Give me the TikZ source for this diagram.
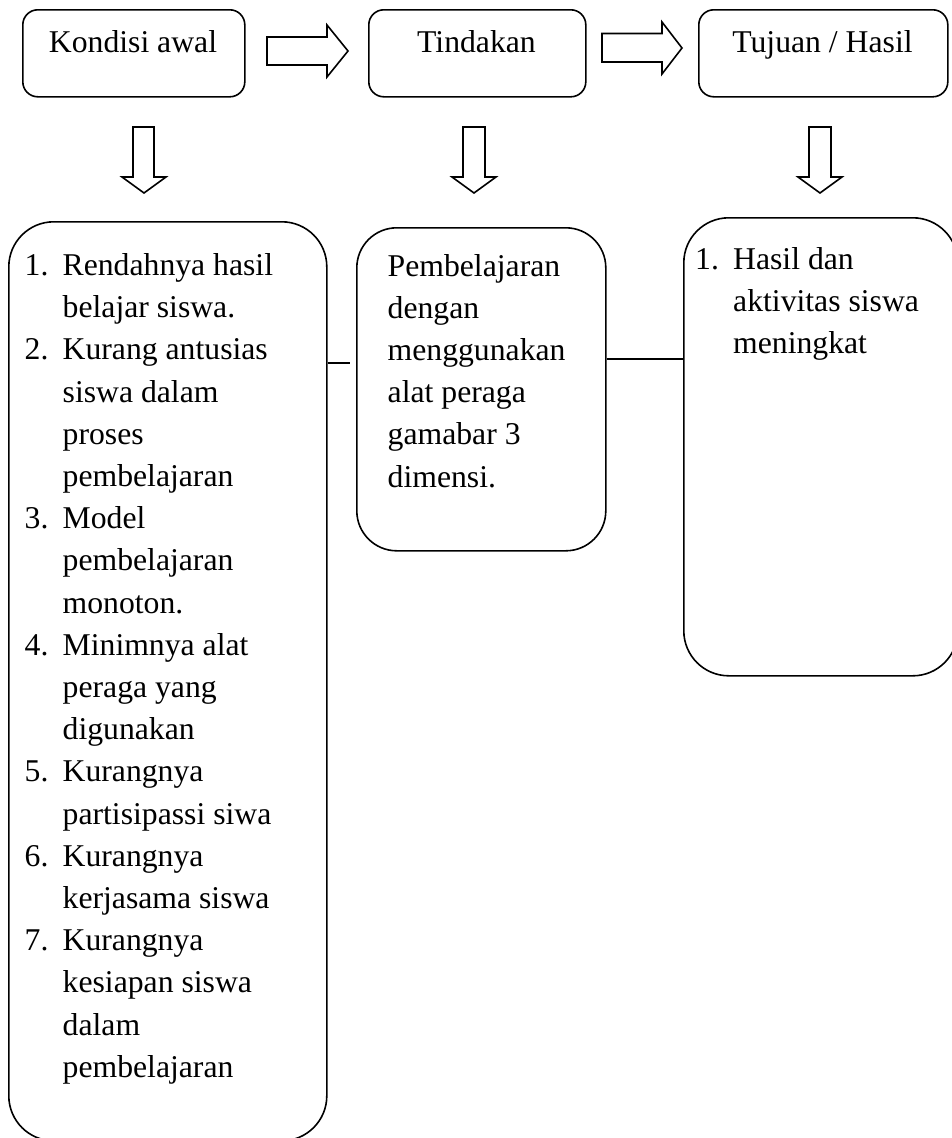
\documentclass[tikz,border=0pt]{standalone}
\usepackage{fontspec}
\setmainfont{Liberation Serif}
\usepackage{array}
\newcommand\itemnum[1]{\makebox[38pt][l]{#1}}
\tikzset{
  smallbox/.style={draw, line width=1.6pt, rounded corners=15pt, inner sep=0pt, anchor=north west},
  bigbox/.style={draw, line width=1.6pt, rounded corners=45pt, inner sep=0pt, anchor=north west},
  blockarrow/.style={draw, line width=1.6pt, miter limit=20},
  conn/.style={draw, line width=1.6pt},
  txt/.style={inner sep=0pt, font=\fontsize{31.7}{42.2}\selectfont}
}
\begin{document}
\begin{tikzpicture}[x=1pt, y=-1pt]
\useasboundingbox (0,0) rectangle (952,1138);
\fill[white] (0,0) rectangle (952,1138);
\clip (0,0) rectangle (952,1138);

% top boxes
\node[smallbox, minimum width=222pt, minimum height=87pt] (k1) at (22,9) {};
\node[smallbox, minimum width=217pt, minimum height=87pt] (k2) at (368,9) {};
\node[smallbox, minimum width=249pt, minimum height=87pt] (k3) at (698,9) {};
\node[txt, anchor=base] (t1) at (133,52) {Kondisi awal};
\node[txt, anchor=base] (t2) at (476.5,52) {Tindakan};
\node[txt, anchor=base] (t3) at (822.5,52) {Tujuan / Hasil};

% block arrows (right)
\draw[blockarrow] (267,37) -- (327,37) -- (327,25) -- (348,51) -- (327,77) -- (327,65) -- (267,65) -- cycle;
\draw[blockarrow] (602,33.5) -- (662,33.5) -- (662,22) -- (682,48) -- (662,74) -- (662,62) -- (602,62) -- cycle;
% block arrows (down)
\draw[blockarrow] (133,127) -- (154,127) -- (154,177) -- (166,177) -- (144,193) -- (122,177) -- (133,177) -- cycle;
\draw[blockarrow] (463,127) -- (485,127) -- (485,177) -- (496,177) -- (474,193) -- (452,177) -- (463,177) -- cycle;
\draw[blockarrow] (809,127) -- (831,127) -- (831,177) -- (842,177) -- (820,193) -- (798,177) -- (809,177) -- cycle;

% big boxes
\node[bigbox, minimum width=318pt, minimum height=919pt] (L) at (8,221) {};
\node[bigbox, rounded corners=40pt, minimum width=249pt, minimum height=323pt] (M) at (356,227) {};
\node[bigbox, minimum width=274pt, minimum height=458pt] (R) at (683,217) {};

% texts
\node[txt, anchor=base west] (lt) at (24.5,275.5) {%
\begin{tabular}[t]{@{}l@{}l@{}}
\itemnum{1.} & Rendahnya hasil\\
 & belajar siswa.\\
\itemnum{2.} & Kurang antusias\\
 & siswa dalam\\
 & proses\\
 & pembelajaran\\
\itemnum{3.} & Model\\
 & pembelajaran\\
 & monoton.\\
\itemnum{4.} & Minimnya alat\\
 & peraga yang\\
 & digunakan\\
\itemnum{5.} & Kurangnya\\
 & partisipassi siwa\\
\itemnum{6.} & Kurangnya\\
 & kerjasama siswa\\
\itemnum{7.} & Kurangnya\\
 & kesiapan siswa\\
 & dalam\\
 & pembelajaran
\end{tabular}};
\node[txt, anchor=base west] (mt) at (387.5,276) {%
\begin{tabular}[t]{@{}l@{}}
Pembelajaran\\
dengan\\
menggunakan\\
alat peraga\\
gamabar 3\\
dimensi.
\end{tabular}};
\node[txt, anchor=base west] (rt) at (695,269) {%
\begin{tabular}[t]{@{}l@{}l@{}}
\itemnum{1.} & Hasil dan\\
 & aktivitas siswa\\
 & meningkat
\end{tabular}};

% connectors
\coordinate (ya) at (0,363);
\coordinate (yb) at (0,359);
\coordinate (gapend) at (350,363);
\draw[conn] (L.east |- ya) -- (gapend);
\draw[conn] (M.east |- yb) -- (R.west |- yb);
\end{tikzpicture}
\end{document}
